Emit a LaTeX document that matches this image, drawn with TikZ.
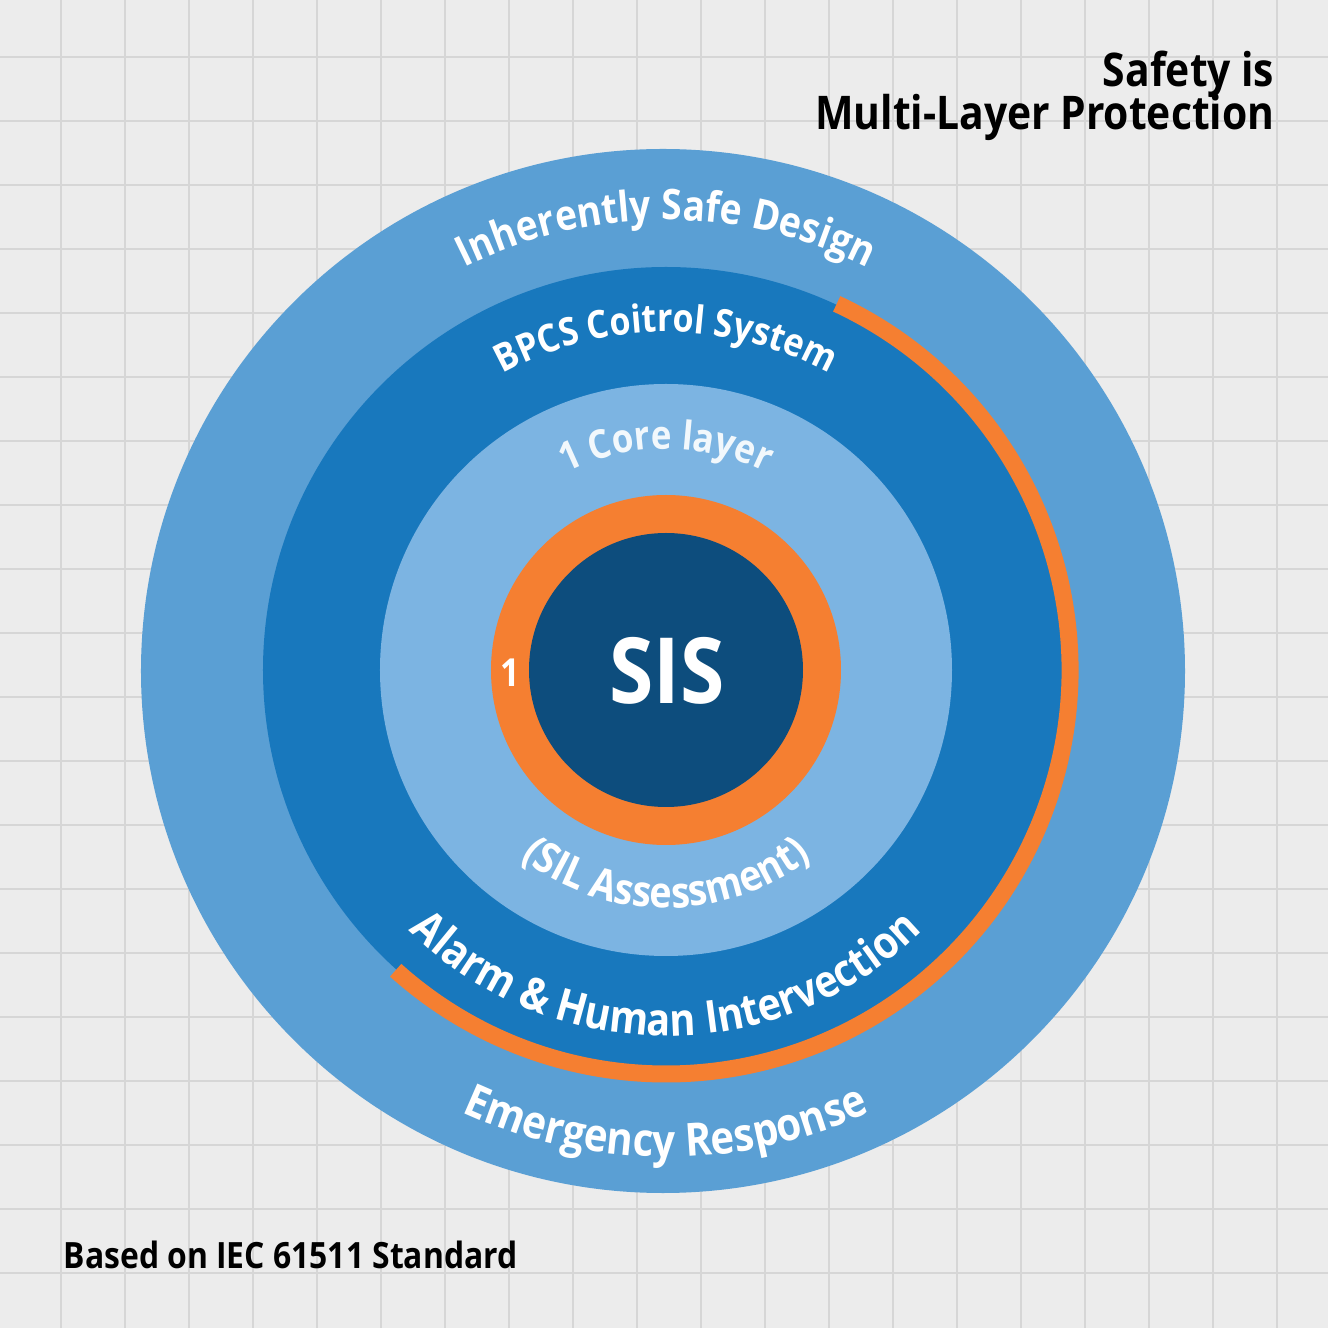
\documentclass[tikz,border=0pt]{standalone}
\usepackage{fontspec}
\setmainfont{Open Sans}[FakeStretch=0.88]
\usepackage{tikz}
\usetikzlibrary{decorations.text}
\definecolor{paper}{RGB}{236,236,236}
\definecolor{gridgray}{RGB}{214,214,214}
\definecolor{outerblue}{RGB}{90,159,212}
\definecolor{bandblue}{RGB}{24,120,189}
\definecolor{coreblue}{RGB}{124,180,226}
\definecolor{sisblue}{RGB}{13,77,125}
\definecolor{sisorange}{RGB}{245,127,49}

\begin{document}
\begin{tikzpicture}[font=\bfseries,
  arclabel/.style={decorate, decoration={text along path, text align=center, text color=white, text={#1}}}]
  \useasboundingbox (-6.66,-6.58) rectangle (6.62,6.70);
  \fill[paper] (-6.66,-6.58) rectangle (6.62,6.70);
  \foreach \k in {0,...,19} {
    \draw[gridgray, line width=0.6pt] ({-6.05+0.64*\k},-6.58) -- ({-6.05+0.64*\k},6.70);
    \draw[gridgray, line width=0.6pt] (-6.66,{6.13-0.64*\k}) -- (6.62,{6.13-0.64*\k});
  }
  \fill[outerblue] (-0.03,-0.01) circle (5.22);
  \fill[bandblue] (0,0) circle (4.03);
  \fill[coreblue] (0,0) circle (2.86);
  \fill[sisorange] (0,0) circle (1.75);
  \fill[sisblue] (0,0) circle (1.37);
  \draw[sisorange, line width=0.17cm] (65:4.04) arc[start angle=65, end angle=-132, radius=4.04];
  \path[arclabel={|\bfseries\fontsize{12}{12}\selectfont|Inherently Safe Design}]
    (150:4.50) arc[start angle=150, end angle=30, radius=4.50];
  \path[arclabel={|\bfseries\fontsize{11}{11}\selectfont|BPCS Coitrol System}]
    (150:3.38) arc[start angle=150, end angle=30, radius=3.38];
  \path[arclabel={|\bfseries\fontsize{11.3}{11.3}\selectfont\color{white!90!coreblue}|1 Core layer}]
    (150:2.21) arc[start angle=150, end angle=30, radius=2.21];
  \path[arclabel={|\bfseries\fontsize{12.2}{12.2}\selectfont|(SIL Assessment)}]
    (210:2.38) arc[start angle=210, end angle=330, radius=2.38];
  \path[arclabel={|\bfseries\fontsize{12.8}{12.8}\selectfont|Alarm {\&} Human Intervection}]
    (210:3.66) arc[start angle=210, end angle=330, radius=3.66];
  \path[arclabel={|\bfseries\fontsize{13}{13}\selectfont|Emergency Response}]
    (210:4.87) arc[start angle=210, end angle=330, radius=4.87];
  \node[white, font=\bfseries\fontsize{26}{26}\selectfont] (sis) at (0.01,-0.01) {SIS};
  \node[white, font=\bfseries\fontsize{11}{11}\selectfont] (one) at (-1.56,-0.03) {1};
  \node[anchor=base east, inner sep=0pt, font=\bfseries\fontsize{13.2}{13.2}\selectfont] (title1) at (6.09,5.83) {Safety is};
  \node[anchor=base east, inner sep=0pt, font=\bfseries\fontsize{13.2}{13.2}\selectfont] (title2) at (6.09,5.40) {Multi-Layer Protection};
  \node[anchor=base west, inner sep=0pt, font=\bfseries\fontsize{10.3}{10.3}\selectfont] (std) at (-6.03,-5.98) {Based on IEC 61511 Standard};
\end{tikzpicture}
\end{document}
